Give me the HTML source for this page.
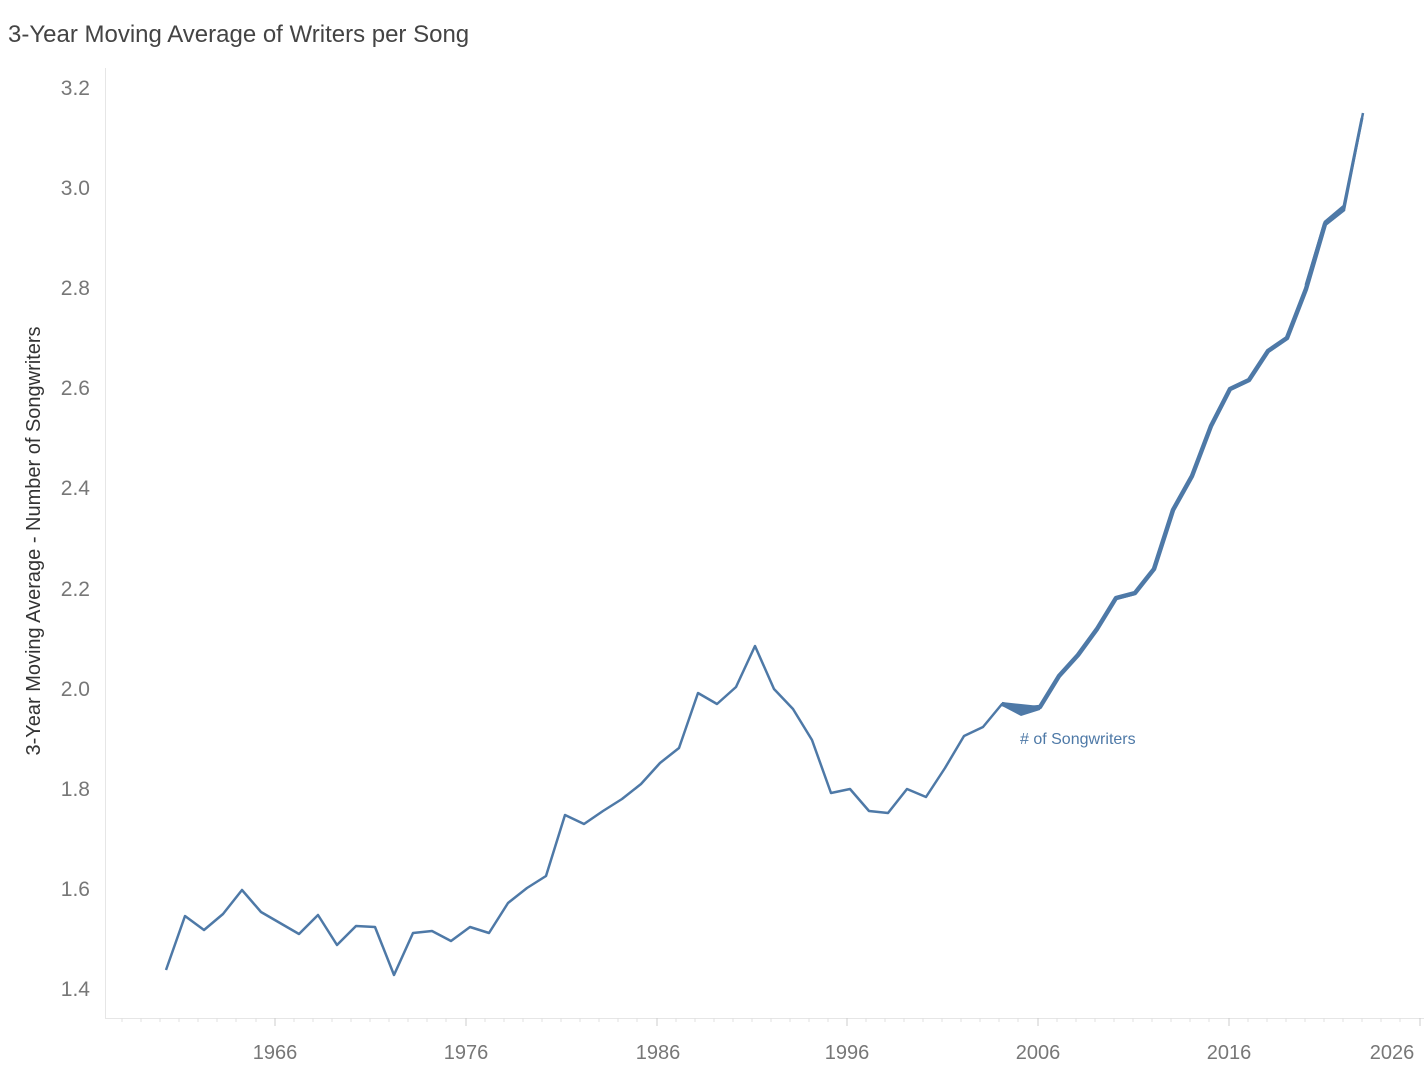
<!DOCTYPE html>
<html><head><meta charset="utf-8"><style>
body{margin:0;background:#fff;width:1424px;height:1078px;overflow:hidden;font-family:"Liberation Sans",sans-serif}
</style></head><body>
<svg width="1424" height="1078" xmlns="http://www.w3.org/2000/svg" font-family="Liberation Sans, sans-serif">
<text x="8" y="42" font-size="24" fill="#444" font-weight="300">3-Year Moving Average of Writers per Song</text>
<line x1="105.5" y1="68" x2="105.5" y2="1018" stroke="#e6e6e6"/>
<line x1="105" y1="1018.5" x2="1424" y2="1018.5" stroke="#e6e6e6"/>
<g fill="#777" font-size="21" text-anchor="end">
<text x="90" y="95">3.2</text><text x="90" y="195">3.0</text><text x="90" y="295">2.8</text>
<text x="90" y="395">2.6</text><text x="90" y="495">2.4</text><text x="90" y="596">2.2</text>
<text x="90" y="696">2.0</text><text x="90" y="796">1.8</text><text x="90" y="896">1.6</text>
<text x="90" y="996">1.4</text></g>
<g stroke="#ddd" id="minor"></g>
<g stroke="#ccc">
<line x1="275" y1="1018" x2="275" y2="1026"/><line x1="466" y1="1018" x2="466" y2="1026"/>
<line x1="657" y1="1018" x2="657" y2="1026"/><line x1="847" y1="1018" x2="847" y2="1026"/>
<line x1="1038" y1="1018" x2="1038" y2="1026"/><line x1="1229" y1="1018" x2="1229" y2="1026"/>
<line x1="1420" y1="1018" x2="1420" y2="1026"/></g>
<g fill="#777" font-size="20" text-anchor="middle">
<text x="275" y="1059">1966</text><text x="466" y="1059">1976</text><text x="658" y="1059">1986</text>
<text x="847" y="1059">1996</text><text x="1038" y="1059">2006</text><text x="1229" y="1059">2016</text>
<text x="1392" y="1059">2026</text></g>
<text transform="translate(40,541) rotate(-90)" text-anchor="middle" font-size="20" fill="#333">3-Year Moving Average - Number of Songwriters</text>
<polyline fill="none" stroke="#4e79a7" stroke-width="2.5" stroke-linejoin="round" points="166,970 185,916 204,930 223,914 242,890 261,912 280,923 299,934 318,915 337,945 356,926 375,927 394,975 413,933 432,931 451,941 470,927 489,933 508,903 527,888 546,876 565,815 584,824 603,811 622,799 641,784 660,763 679,748 698,693 717,704 736,687 755,646 774,689 793,709 812,740 831,793 850,789 869,811 888,813 907,789 926,797 945,768 964,736 983,727 1002,704 1021,712 1040,708 1059,677 1078,656 1097,630 1116,599 1135,594 1154,570 1173,511 1192,477 1211,427 1230,390 1249,381 1268,352 1287,339 1306,290 1325,225 1344,210 1363,113"/>
<polyline fill="none" stroke="#4e79a7" stroke-width="4.5" stroke-linejoin="round" points="1002,704 1021,709 1040,707 1059,676 1078,655 1097,629 1116,598 1135,593 1154,569 1173,510 1192,476 1211,426 1230,389 1249,380 1268,351 1287,338 1306,289 1325,224 1344,209"/>
<polyline fill="none" stroke="#4e79a7" stroke-width="3" stroke-linejoin="round" points="1306,285 1325,222 1344,206 1362,118"/>
<polygon fill="#4e79a7" points="1002,702 1021,704 1040,706 1040,710 1021,716 1002,706"/>
<text x="1020" y="744" font-size="16" fill="#4e79a7"># of Songwriters</text>
<g stroke="#e0e0e0">
<line x1="122" y1="1018" x2="122" y2="1022"/><line x1="141" y1="1018" x2="141" y2="1022"/><line x1="160" y1="1018" x2="160" y2="1022"/><line x1="179" y1="1018" x2="179" y2="1022"/><line x1="198" y1="1018" x2="198" y2="1022"/><line x1="217" y1="1018" x2="217" y2="1022"/><line x1="236" y1="1018" x2="236" y2="1022"/><line x1="256" y1="1018" x2="256" y2="1022"/>
<line x1="294" y1="1018" x2="294" y2="1022"/><line x1="313" y1="1018" x2="313" y2="1022"/><line x1="332" y1="1018" x2="332" y2="1022"/><line x1="351" y1="1018" x2="351" y2="1022"/><line x1="370" y1="1018" x2="370" y2="1022"/><line x1="389" y1="1018" x2="389" y2="1022"/><line x1="408" y1="1018" x2="408" y2="1022"/><line x1="427" y1="1018" x2="427" y2="1022"/><line x1="446" y1="1018" x2="446" y2="1022"/>
<line x1="485" y1="1018" x2="485" y2="1022"/><line x1="504" y1="1018" x2="504" y2="1022"/><line x1="523" y1="1018" x2="523" y2="1022"/><line x1="542" y1="1018" x2="542" y2="1022"/><line x1="561" y1="1018" x2="561" y2="1022"/><line x1="580" y1="1018" x2="580" y2="1022"/><line x1="599" y1="1018" x2="599" y2="1022"/><line x1="618" y1="1018" x2="618" y2="1022"/><line x1="637" y1="1018" x2="637" y2="1022"/>
<line x1="676" y1="1018" x2="676" y2="1022"/><line x1="695" y1="1018" x2="695" y2="1022"/><line x1="714" y1="1018" x2="714" y2="1022"/><line x1="733" y1="1018" x2="733" y2="1022"/><line x1="752" y1="1018" x2="752" y2="1022"/><line x1="771" y1="1018" x2="771" y2="1022"/><line x1="790" y1="1018" x2="790" y2="1022"/><line x1="809" y1="1018" x2="809" y2="1022"/><line x1="828" y1="1018" x2="828" y2="1022"/>
<line x1="866" y1="1018" x2="866" y2="1022"/><line x1="885" y1="1018" x2="885" y2="1022"/><line x1="904" y1="1018" x2="904" y2="1022"/><line x1="923" y1="1018" x2="923" y2="1022"/><line x1="942" y1="1018" x2="942" y2="1022"/><line x1="961" y1="1018" x2="961" y2="1022"/><line x1="980" y1="1018" x2="980" y2="1022"/><line x1="999" y1="1018" x2="999" y2="1022"/><line x1="1018" y1="1018" x2="1018" y2="1022"/>
<line x1="1057" y1="1018" x2="1057" y2="1022"/><line x1="1076" y1="1018" x2="1076" y2="1022"/><line x1="1095" y1="1018" x2="1095" y2="1022"/><line x1="1114" y1="1018" x2="1114" y2="1022"/><line x1="1133" y1="1018" x2="1133" y2="1022"/><line x1="1152" y1="1018" x2="1152" y2="1022"/><line x1="1171" y1="1018" x2="1171" y2="1022"/><line x1="1190" y1="1018" x2="1190" y2="1022"/><line x1="1209" y1="1018" x2="1209" y2="1022"/>
<line x1="1248" y1="1018" x2="1248" y2="1022"/><line x1="1267" y1="1018" x2="1267" y2="1022"/><line x1="1286" y1="1018" x2="1286" y2="1022"/><line x1="1305" y1="1018" x2="1305" y2="1022"/><line x1="1324" y1="1018" x2="1324" y2="1022"/><line x1="1343" y1="1018" x2="1343" y2="1022"/><line x1="1362" y1="1018" x2="1362" y2="1022"/><line x1="1381" y1="1018" x2="1381" y2="1022"/><line x1="1400" y1="1018" x2="1400" y2="1022"/>
</g>
</svg>
</body></html>
